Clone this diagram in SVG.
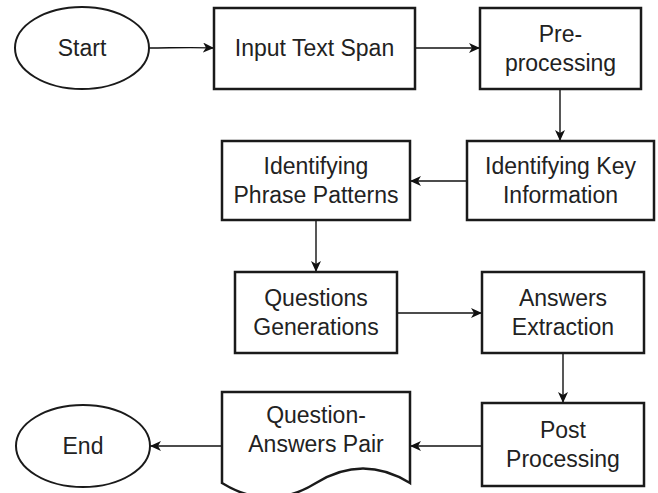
<svg xmlns="http://www.w3.org/2000/svg" width="658" height="493" viewBox="0 0 658 493">
<defs>
<style>
.box{fill:#fff;stroke:#1a1a1a;stroke-width:2.5}
.ell{fill:#fff;stroke:#1a1a1a;stroke-width:2}
.t{font-family:"Liberation Sans",Arial,sans-serif;font-size:23px;fill:#222;text-anchor:middle}
.c{fill:none;stroke:#111;stroke-width:1.4}
</style>
<marker id="arr" markerUnits="userSpaceOnUse" markerWidth="12" markerHeight="10" viewBox="0 0 12 10" refX="11" refY="5" orient="auto">
<path d="M0,0 L11,5 L0,10 L3,5 Z" fill="#111"/>
</marker>
</defs>
<rect width="658" height="493" fill="#fff"/>
<g id="connectors">
<path class="c" d="M149,48 C170,48 190,47 214,48" marker-end="url(#arr)"/>
<path class="c" d="M415,48 H480" marker-end="url(#arr)"/>
<path class="c" d="M560,89 V141" marker-end="url(#arr)"/>
<path class="c" d="M467,181 H410" marker-end="url(#arr)"/>
<path class="c" d="M316,220 V272" marker-end="url(#arr)"/>
<path class="c" d="M397,313 H482" marker-end="url(#arr)"/>
<path class="c" d="M563,353 V403" marker-end="url(#arr)"/>
<path class="c" d="M482,446 H410" marker-end="url(#arr)"/>
<path class="c" d="M222,446 H150" marker-end="url(#arr)"/>
</g>
<g id="start">
<ellipse class="ell" cx="82" cy="48" rx="67" ry="41"/>
<text class="t" x="82" y="56">Start</text>
</g>
<g id="input">
<rect class="box" x="214" y="8" width="201" height="81"/>
<text class="t" x="314.5" y="56">Input Text Span</text>
</g>
<g id="preprocessing">
<rect class="box" x="480" y="8" width="161" height="81"/>
<text class="t" x="560.5" y="42">Pre-</text>
<text class="t" x="560.5" y="71">processing</text>
</g>
<g id="keyinfo">
<rect class="box" x="467" y="141" width="187" height="79"/>
<text class="t" x="560.5" y="174">Identifying Key</text>
<text class="t" x="560.5" y="203">Information</text>
</g>
<g id="phrase">
<rect class="box" x="222" y="141" width="188" height="79"/>
<text class="t" x="316" y="174">Identifying</text>
<text class="t" x="316" y="203">Phrase Patterns</text>
</g>
<g id="questions">
<rect class="box" x="235" y="272" width="162" height="81"/>
<text class="t" x="316" y="306">Questions</text>
<text class="t" x="316" y="335">Generations</text>
</g>
<g id="answers">
<rect class="box" x="482" y="272" width="162" height="81"/>
<text class="t" x="563" y="306">Answers</text>
<text class="t" x="563" y="335">Extraction</text>
</g>
<g id="post">
<rect class="box" x="482" y="403" width="162" height="83"/>
<text class="t" x="563" y="438">Post</text>
<text class="t" x="563" y="467">Processing</text>
</g>
<g id="qapair">
<path class="box" d="M222,392 H410 V483 Q363,454 316,483 Q269,512 222,483 Z"/>
<text class="t" x="316" y="423">Question-</text>
<text class="t" x="316" y="452">Answers Pair</text>
</g>
<g id="end">
<ellipse class="ell" cx="83" cy="446" rx="67" ry="41"/>
<text class="t" x="83" y="454">End</text>
</g>
</svg>
